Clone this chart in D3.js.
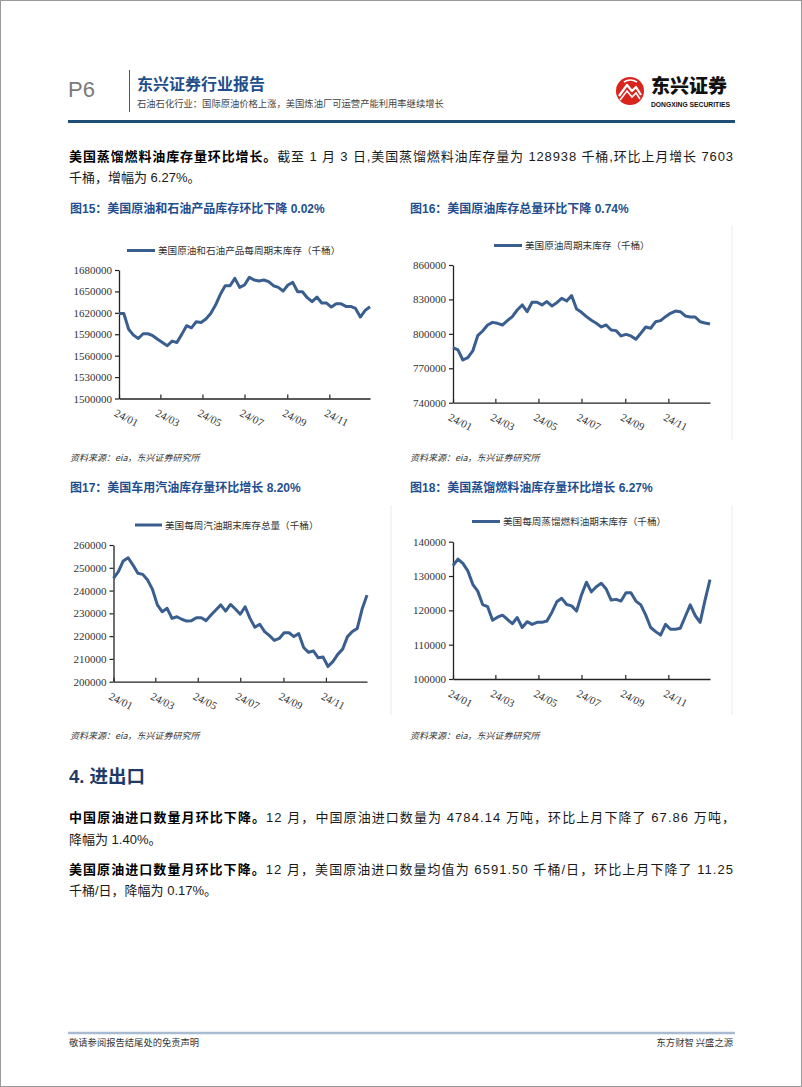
<!DOCTYPE html>
<html><head><meta charset="utf-8">
<script src="https://cdn.jsdelivr.net/npm/d3@7"></script>
<style>body{margin:0;background:#fff}svg{display:block}</style>
</head><body><svg id="page" width="802" height="1087"></svg>
<script>
// ---------- data ----------
const firstWeek = new Date(2024, 0, 5);   // weekly observations, week ending dates
const weekCount = 53;
const tickLabels = ["24/01", "24/03", "24/05", "24/07", "24/09", "24/11"];

const totalStocks = [1619000,1619000,1597000,1588800,1584000,1590700,1590700,1588000,1583000,1578500,
  1573900,1580400,1578500,1589800,1602000,1599000,1607500,1606600,1611300,1619200,
  1630900,1645900,1658000,1658000,1668300,1655700,1659000,1669700,1666000,1664600,
  1666000,1663600,1658000,1655700,1650500,1659000,1662700,1649600,1649600,1641200,
  1635600,1642100,1633700,1633700,1628100,1632800,1632800,1629000,1629000,1626200,
  1614100,1623400,1628600];

const crudeStocks = [788000,786000,777200,779300,785100,798400,802500,807700,810000,809200,
  807700,811500,815000,820800,825200,819300,827500,827500,825200,828100,
  824300,827200,831000,828600,833300,821700,818800,815000,811800,809200,
  806000,807700,803400,802800,798200,799600,798200,795300,800500,806000,
  804900,810600,811500,815000,817900,819900,819300,815600,814700,814700,
  810600,809500,808600];

const gasolineStocks = [245400,248300,253000,254400,251200,247600,247100,244600,240500,233700,
  230700,232200,227800,228500,227400,226600,226800,228100,228100,226800,
  229300,231500,233700,231000,233900,231900,229600,232900,227800,223900,
  225200,222000,220200,218100,219000,221500,221500,219800,221100,215000,
  212900,213500,210500,210800,206700,208800,212000,214300,219800,222000,
  223400,231900,238000];

const distillateStocks = [133000,134950,133700,131500,127600,125600,121700,121100,117100,118000,
  118600,117400,116100,117900,115000,116700,115900,116500,116500,116900,
  119400,122500,123500,121700,121300,119800,124500,128200,125400,126900,
  127900,126200,123000,123200,122700,125100,125100,122700,121600,118600,
  115000,113800,112800,115900,114500,114500,114800,118200,121600,118500,
  116500,123000,128938];

const chartTitles = ["图15：美国原油和石油产品库存环比下降 0.02%", "图16：美国原油库存总量环比下降 0.74%",
  "图17：美国车用汽油库存量环比增长 8.20%", "图18：美国蒸馏燃料油库存量环比增长 6.27%"];
const legendNames = ["美国原油和石油产品每周期末库存（千桶）", "美国原油周期末库存（千桶）",
  "美国每周汽油期末库存总量（千桶）", "美国每周蒸馏燃料油期末库存（千桶）"];
const yDomains = [[1500000, 1680000], [740000, 860000], [200000, 260000], [100000, 140000]];
const yTickValues = [
  [1500000,1530000,1560000,1590000,1620000,1650000,1680000],
  [740000,770000,800000,830000,860000],
  [200000,210000,220000,230000,240000,250000,260000],
  [100000,110000,120000,130000,140000]];
const sourceText = "资料来源：eia，东兴证券研究所";

// ---------- layout ----------
const dates = d3.range(weekCount).map(i => d3.timeDay.offset(firstWeek, 7 * i));
const tickDates = tickLabels.map(s => new Date(2000 + +s.slice(0, 2), +s.slice(3) - 1, 5));
const seriesList = [totalStocks, crudeStocks, gasolineStocks, distillateStocks];

const layouts = [
  {tx:70, ty:213, lx1:127, lx2:155, ly:250.5, x0:119, x1:370, yb:398.5, yt:270, sy:461},
  {tx:410, ty:213, lx1:494, lx2:522, ly:245.5, x0:453, x1:710, yb:402.7, yt:265, sy:461},
  {tx:70, ty:492, lx1:135, lx2:162, ly:525, x0:113.5, x1:367, yb:681.7, yt:545, sy:739},
  {tx:410, ty:492, lx1:472, lx2:500, ly:521.5, x0:453, x1:710, yb:679, yt:541.7, sy:739}
];

const svg = d3.select("#page");
const SANS = "'Liberation Sans','Noto Sans CJK SC',sans-serif";
const CJK = "'Noto Sans CJK SC','Liberation Sans',sans-serif";
const SERIF = "'Liberation Serif','Times New Roman',serif";
const LINE = "#3a5f8f";
const TITLE = "#1f4f8f";

svg.append("rect").attr("x",0.5).attr("y",0.5).attr("width",801).attr("height",1086)
  .attr("fill","#fff").attr("stroke","#9a9a9a");

// ---------- header ----------
svg.append("text").attr("x",68).attr("y",97).attr("font-family",SANS).attr("font-size",22)
  .attr("fill","#7a7a7a").text("P6");
svg.append("line").attr("x1",129.5).attr("x2",129.5).attr("y1",70).attr("y2",112)
  .attr("stroke","#555").attr("stroke-width",1);
svg.append("text").attr("x",137).attr("y",90).attr("font-family",CJK).attr("font-size",16)
  .attr("font-weight","bold").attr("fill","#1f4e8c").text("东兴证券行业报告");
svg.append("text").attr("x",137).attr("y",107).attr("font-family",CJK).attr("font-size",9.3)
  .attr("fill","#444").text("石油石化行业：国际原油价格上涨，美国炼油厂可运营产能利用率继续增长");
svg.append("line").attr("x1",68).attr("x2",735).attr("y1",121.5).attr("y2",121.5)
  .attr("stroke","#1f4e79").attr("stroke-width",3);

// logo
const logo = svg.append("g").attr("transform","translate(630,91)");
logo.append("circle").attr("r",14).attr("fill","#d8261f");
logo.append("path").attr("d","M-11,5 L-3,-6 L2,0 L6,-4 L11,4").attr("fill","none")
  .attr("stroke","#fff").attr("stroke-width",2.2).attr("stroke-linejoin","round");
logo.append("path").attr("d","M-10,9 L-3,0 L2,6 L6,2 L10,8").attr("fill","none")
  .attr("stroke","#fff").attr("stroke-width",1.6);
logo.append("path").attr("d","M-6,-9 Q0,-13 7,-9").attr("fill","none")
  .attr("stroke","#fff").attr("stroke-width",1.6);
svg.append("text").attr("x",651).attr("y",93).attr("font-family",CJK).attr("font-size",19)
  .attr("font-weight","900").attr("fill","#111").text("东兴证券");
svg.append("text").attr("x",651).attr("y",106.5).attr("font-family",SANS).attr("font-size",6.4)
  .attr("font-weight","bold").attr("fill","#111").attr("textLength",79)
  .attr("lengthAdjust","spacingAndGlyphs").text("DONGXING SECURITIES");

// ---------- body text ----------
function para(x, y, boldPart, rest, len) {
  const t = svg.append("text").attr("x", x).attr("y", y).attr("font-family", SANS)
    .attr("font-size", 13).attr("fill", "#1a1a1a");
  if (boldPart) t.append("tspan").attr("font-weight", "bold").attr("fill","#000").text(boldPart);
  t.append("tspan").text(rest);
  if (len) t.attr("textLength", len).attr("lengthAdjust", "spacing");
}
para(69, 161, "美国蒸馏燃料油库存量环比增长。", "截至 1 月 3 日,美国蒸馏燃料油库存量为 128938 千桶,环比上月增长 7603", 664);
para(69, 182, null, "千桶，增幅为 6.27%。");

svg.append("text").attr("x",69).attr("y",783).attr("font-family",SANS).attr("font-size",18.5)
  .attr("font-weight","bold").attr("fill","#1f3a66").text("4. 进出口");

para(69, 822, "中国原油进口数量月环比下降。", "12 月，中国原油进口数量为 4784.14 万吨，环比上月下降了 67.86 万吨，", 666);
para(69, 844, null, "降幅为 1.40%。");
para(69, 874, "美国原油进口数量月环比下降。", "12 月，美国原油进口数量均值为 6591.50 千桶/日，环比上月下降了 11.25", 664);
para(69, 895, null, "千桶/日，降幅为 0.17%。");

// ---------- footer ----------
svg.append("line").attr("x1",68).attr("x2",735).attr("y1",1033).attr("y2",1033)
  .attr("stroke","#a8bbd0").attr("stroke-width",2.5);
svg.append("text").attr("x",69).attr("y",1046).attr("font-family",CJK).attr("font-size",9.3)
  .attr("fill","#333").text("敬请参阅报告结尾处的免责声明");
svg.append("text").attr("x",733).attr("y",1046).attr("text-anchor","end").attr("font-family",CJK)
  .attr("font-size",9.3).attr("fill","#333").text("东方财智 兴盛之源");

// faint frame lines on the right of the figures
[[732,225,440],[391,505,715],[732,505,715]].forEach(([x,a,b]) =>
  svg.append("line").attr("x1",x).attr("x2",x).attr("y1",a).attr("y2",b)
    .attr("stroke","#ececec").attr("stroke-width",1));

// ---------- charts ----------
layouts.forEach((L, i) => {
  const g = svg.append("g");
  g.append("text").attr("x", L.tx).attr("y", L.ty).attr("font-family", SANS)
    .attr("font-size", 12).attr("font-weight", "bold").attr("fill", TITLE).text(chartTitles[i]);

  g.append("line").attr("x1", L.lx1).attr("x2", L.lx2).attr("y1", L.ly).attr("y2", L.ly)
    .attr("stroke", LINE).attr("stroke-width", 3);
  g.append("text").attr("x", L.lx2 + 3).attr("y", L.ly + 3.5).attr("font-family", CJK)
    .attr("font-size", 9.6).attr("fill", "#333").text(legendNames[i]);

  const x = d3.scaleTime().domain([dates[0], dates[dates.length - 1]]).range([L.x0, L.x1]);
  const y = d3.scaleLinear().domain(yDomains[i]).range([L.yb, L.yt]);

  const ya = g.append("g").attr("transform", `translate(${L.x0},0)`)
    .call(d3.axisLeft(y).tickValues(yTickValues[i]).tickSize(4).tickSizeOuter(0)
      .tickPadding(3).tickFormat(d3.format("d")));
  ya.selectAll("text").attr("font-family", SERIF).attr("font-size", 11).attr("fill", "#333");
  ya.select(".domain").attr("stroke", "#222").attr("stroke-width", 1.3);
  ya.selectAll(".tick line").attr("stroke", "#222").attr("stroke-width", 1.2);

  const xa = g.append("g").attr("transform", `translate(0,${L.yb})`)
    .call(d3.axisBottom(x).tickValues(tickDates).tickSize(-4).tickSizeOuter(0)
      .tickFormat(d3.timeFormat("%y/%m")));
  xa.select(".domain").attr("stroke", "#222").attr("stroke-width", 1.3);
  xa.selectAll(".tick line").attr("stroke", "#222").attr("stroke-width", 1.2);
  xa.selectAll("text").attr("font-family", SERIF).attr("font-size", 11).attr("fill", "#333")
    .attr("x", 0).attr("y", 0).attr("dy", 0).attr("text-anchor", "start")
    .attr("transform", "translate(-6,17) rotate(27)");

  const line = d3.line().x((d, k) => x(dates[k])).y(d => y(d));
  g.append("path").datum(seriesList[i]).attr("d", line).attr("fill", "none")
    .attr("stroke", LINE).attr("stroke-width", 3).attr("stroke-linejoin", "round");

  g.append("text").attr("x", L.tx).attr("y", L.sy).attr("font-family", CJK)
    .attr("font-size", 9).attr("font-style", "italic").attr("fill", "#333").text(sourceText);
});
</script></body></html>
